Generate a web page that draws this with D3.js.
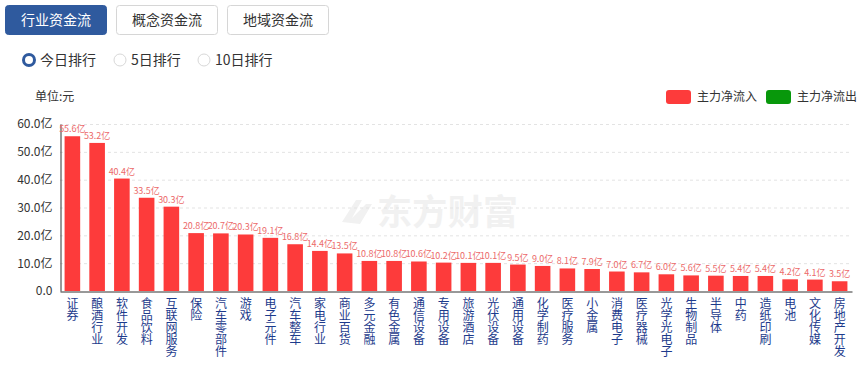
<!DOCTYPE html>
<html><head><meta charset="utf-8">
<script src="https://cdn.jsdelivr.net/npm/d3@7"></script>
<style>
body{margin:0;background:#fff;font-family:"Microsoft YaHei","Noto Sans CJK SC",sans-serif;}
.vlab{writing-mode:vertical-rl;text-orientation:upright;}
</style></head>
<body>
<svg id="chart" width="866" height="367"></svg>
<script>
const categories = ["证券","酿酒行业","软件开发","食品饮料","互联网服务","保险","汽车零部件","游戏","电子元件","汽车整车","家电行业","商业百货","多元金融","有色金属","通信设备","专用设备","旅游酒店","光伏设备","通用设备","化学制药","医疗服务","小金属","消费电子","医疗器械","光学光电子","生物制品","半导体","中药","造纸印刷","电池","文化传媒","房地产开发"];
const inflow = [55.6,53.2,40.4,33.5,30.3,20.8,20.7,20.3,19.1,16.8,14.4,13.5,10.8,10.8,10.6,10.2,10.1,10.1,9.5,9.0,8.1,7.9,7.0,6.7,6.0,5.6,5.5,5.4,5.4,4.2,4.1,3.5];
const yTicks = [0,10,20,30,40,50,60];
const tabs = ["行业资金流","概念资金流","地域资金流"];
const radios = ["今日排行","5日排行","10日排行"];
const legendItems = [{name:"主力净流入",color:"#fd3b3b"},{name:"主力净流出",color:"#08980b"}];

(function(){
const svg = d3.select("#chart");
const font = '"Microsoft YaHei","Noto Sans CJK SC",sans-serif';

// tabs
const tabX = d3.scalePoint().domain(tabs).range([5,227]);
tabs.forEach((t,i)=>{
  const g = svg.append("g").attr("transform",`translate(${tabX(t)},5)`);
  g.append("rect").attr("x",0.5).attr("y",0.5).attr("width",101).attr("height",29).attr("rx",3)
    .attr("fill", i===0?"#2f5a9e":"#fff").attr("stroke", i===0?"#2f5a9e":"#d6d6d6");
  g.append("text").attr("x",51).attr("y",20).attr("text-anchor","middle")
    .attr("font-size",14).attr("font-family",font).attr("fill", i===0?"#fff":"#333").text(t);
});

// radios
const radioX = [29,120,204];
radios.forEach((r,i)=>{
  const cx = radioX[i];
  if(i===0){
    svg.append("circle").attr("cx",cx).attr("cy",60).attr("r",5.5).attr("fill","#fff").attr("stroke","#2f5a9e").attr("stroke-width",3);
  } else {
    svg.append("circle").attr("cx",cx).attr("cy",60).attr("r",6).attr("fill","#fff").attr("stroke","#d8d8d8").attr("stroke-width",1);
  }
  svg.append("text").attr("x",cx+11).attr("y",65).attr("font-size",14).attr("font-family",font).attr("fill","#333").text(r);
});

// unit
svg.append("text").attr("x",35).attr("y",101).attr("font-size",12).attr("font-family",font).attr("fill","#333").text("单位:元");

// legend
legendItems.forEach((d,i)=>{
  const x0 = i===0?666:766;
  svg.append("rect").attr("x",x0).attr("y",90).attr("width",25).attr("height",14).attr("rx",3).attr("fill",d.color);
  svg.append("text").attr("x",x0+31).attr("y",101).attr("font-size",12).attr("font-family",font).attr("fill","#333").text(d.name);
});

// watermark
const wm = svg.append("g").attr("fill","#f1f1f1");
wm.append("path").attr("d","M342,222 L356,200 L362,200 L352,218 L366,204 L372,204 L360,224 Z");
wm.append("text").attr("x",377).attr("y",225).attr("font-size",35).attr("font-weight","bold").attr("font-family",font)
  .attr("textLength",141).text("东方财富");

const pLeft=60, pRight=852, pTop=124, pBottom=291;
const x = d3.scaleBand().domain(categories).range([pLeft,pRight]).paddingInner(0.37).paddingOuter(0.185);
const y = d3.scaleLinear().domain([0,60]).range([pBottom,pTop]);

// gridlines
svg.append("g").selectAll("line").data(yTicks.filter(t=>t>0)).join("line")
  .attr("x1",pLeft).attr("x2",pRight).attr("y1",d=>y(d)+0.5).attr("y2",d=>y(d)+0.5)
  .attr("stroke","#e3e3e3").attr("stroke-dasharray","3,3");

// y axis
const yAxis = d3.axisLeft(y).tickValues(yTicks).tickSize(0).tickPadding(8)
  .tickFormat(d=> d===0 ? "0.0" : d.toFixed(1)+"亿");
const yg = svg.append("g").attr("transform",`translate(${pLeft+0.5},0)`).call(yAxis);
yg.select(".domain").attr("stroke","#333");
yg.selectAll("text").attr("font-size",12).attr("font-family",font).attr("fill","#333");

// bars
svg.append("g").selectAll("rect").data(inflow).join("rect")
  .attr("x",(d,i)=>x(categories[i])).attr("width",x.bandwidth())
  .attr("y",d=>y(d)).attr("height",d=>pBottom-y(d)).attr("fill","#fd3b3b");

// value labels
svg.append("g").selectAll("text").data(inflow).join("text")
  .attr("x",(d,i)=>x(categories[i])+x.bandwidth()/2).attr("y",d=>y(d)-4)
  .attr("text-anchor","middle").attr("font-size",9).attr("font-family",font).attr("fill","#ec6a6a")
  .text(d=>d.toFixed(1)+"亿");

// x axis
const xAxis = d3.axisBottom(x).tickSize(0).tickFormat("");
const xg = svg.append("g").attr("transform",`translate(0,${pBottom+0.5})`).call(xAxis);
xg.select(".domain").attr("stroke","#333");

// vertical category labels
svg.append("g").selectAll("text").data(categories).join("text")
  .attr("class","vlab")
  .attr("x",c=>x(c)+x.bandwidth()/2).attr("y",297)
  .attr("font-size",12).attr("font-family",font).attr("fill","#1d3b8c")
  .text(c=>c);
})();
</script>
</body></html>
